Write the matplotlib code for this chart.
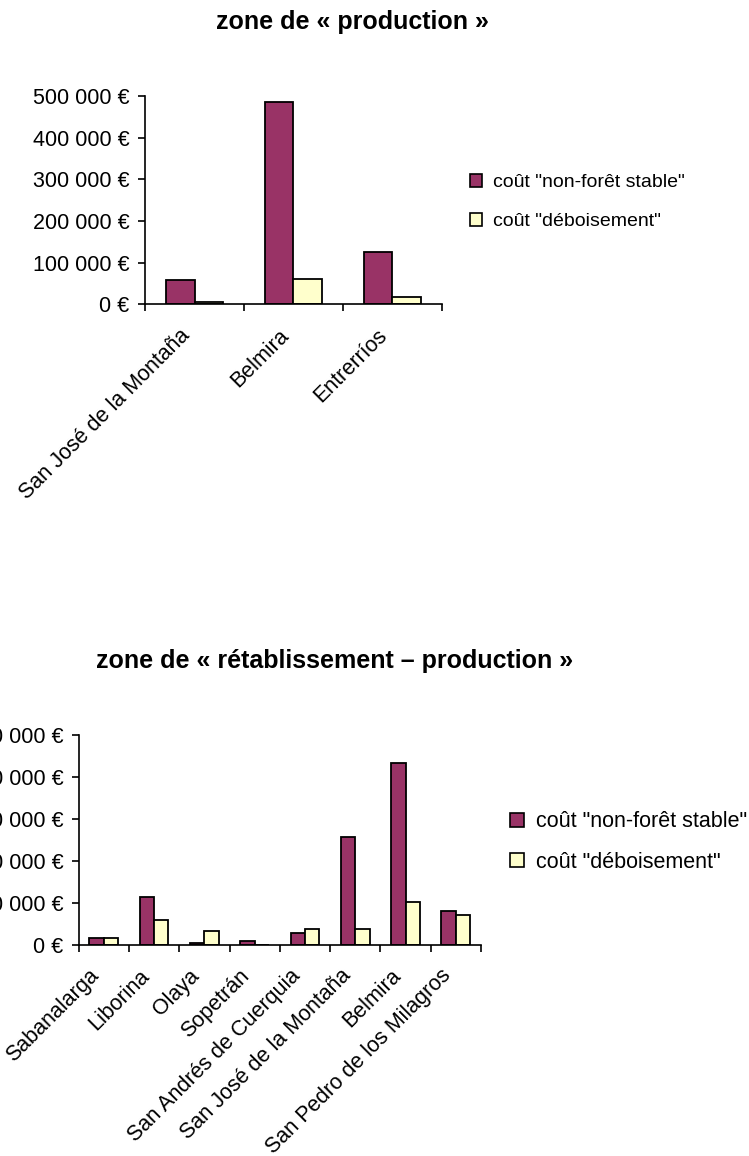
import numpy as np
import matplotlib
matplotlib.use("Agg")
import matplotlib.pyplot as plt
from matplotlib.patches import Patch
from matplotlib.transforms import ScaledTranslation

plt.rcParams['font.family'] = ['Liberation Sans', 'DejaVu Sans']

# Series labels and colours
series_names = ['coût "non-forêt stable"', 'coût "déboisement"']
series_colors = ['#993366', '#FFFFCC']

# zone de « production »
prod_communes = ["San José de la Montaña", "Belmira", "Entrerríos"]
prod_non_foret = [58000, 486000, 126000]
prod_deboisement = [6000, 61000, 17500]

# zone de « rétablissement – production »
retab_communes = ["Sabanalarga", "Liborina", "Olaya", "Sopetrán",
                  "San Andrés de Cuerquia", "San José de la Montaña",
                  "Belmira", "San Pedro de los Milagros"]
retab_non_foret = [15000, 113000, 4000, 9500, 28000, 257000, 433000, 79500]
retab_deboisement = [15000, 58000, 33000, 0, 36500, 36500, 101000, 70500]

yticks = [0, 100000, 200000, 300000, 400000, 500000]


def euro(v, pos=None):
    return "{:,} €".format(int(v)).replace(",", " ")


def draw_bars(ax, names, s1, s2):
    x = np.arange(len(names))
    w = 1 / 3.5  # gap width 150 %
    ax.bar(x - w / 2, s1, w, color=series_colors[0], edgecolor='black', linewidth=1.3)
    ax.bar(x + w / 2, s2, w, color=series_colors[1], edgecolor='black', linewidth=1.3)
    ax.set_xlim(-0.5, len(names) - 0.5)
    ax.set_ylim(0, 500000)
    ax.set_yticks(yticks)
    ax.yaxis.set_major_formatter(plt.FuncFormatter(euro))

    # category labels, rotated, hanging just left of each category centre
    ax.set_xticks([])
    offset = ScaledTranslation(-8 / 100, -28 / 100, fig.dpi_scale_trans)
    for xi, name in zip(x, names):
        ax.text(xi, 0, name, transform=ax.get_xaxis_transform() + offset,
                rotation=45, ha='right', va='center', rotation_mode='anchor',
                fontsize=15.5)

    # category boundary ticks
    ax.set_xticks(np.arange(len(names) + 1) - 0.5, minor=True)
    ax.tick_params(axis='x', which='minor', length=5, width=1.2, direction='out')
    ax.tick_params(axis='y', length=5, width=1.2, labelsize=15.5, pad=6)
    for s in ['top', 'right']:
        ax.spines[s].set_visible(False)
    for s in ['left', 'bottom']:
        ax.spines[s].set_linewidth(1.2)


fig = plt.figure(figsize=(7.49, 11.56), dpi=100)

ax1 = fig.add_axes([0.1936, 0.7368, 0.3965, 0.1799])
draw_bars(ax1, prod_communes, prod_non_foret, prod_deboisement)

ax2 = fig.add_axes([0.1050, 0.1828, 0.5371, 0.1817])
draw_bars(ax2, retab_communes, retab_non_foret, retab_deboisement)

fig.text(352 / 749, 1 - 22 / 1156, "zone de « production »",
         ha='center', va='center', fontsize=18, fontweight='bold')
fig.text(335 / 749, 1 - 661 / 1156, "zone de « rétablissement – production »",
         ha='center', va='center', fontsize=18, fontweight='bold')

handles = [Patch(facecolor=c, edgecolor='black', linewidth=1.2) for c in series_colors]
leg_kw = dict(frameon=False, handlelength=0.65, handleheight=0.65,
              handletextpad=0.55, loc='center left')
fig.legend(handles, series_names, bbox_to_anchor=(452 / 749, 1 - 202 / 1156),
           fontsize=14, labelspacing=1.1, **leg_kw)
fig.legend(handles, series_names, bbox_to_anchor=(491 / 749, 1 - 842 / 1156),
           fontsize=15.5, labelspacing=0.9, **leg_kw)

fig.savefig("out.png", dpi=100)
